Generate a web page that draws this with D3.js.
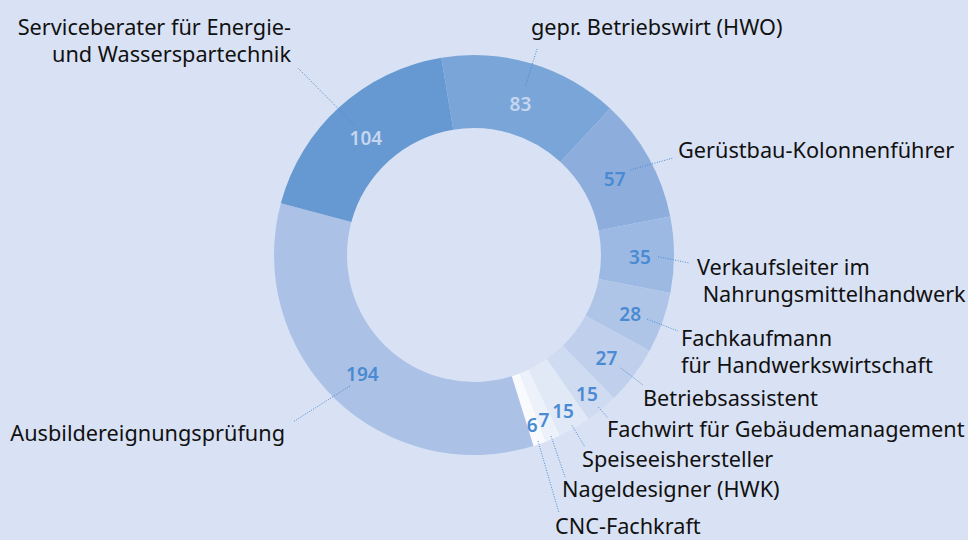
<!DOCTYPE html>
<html>
<head>
<meta charset="utf-8">
<script src="https://cdn.jsdelivr.net/npm/d3@7"></script>
<style>
  body { margin: 0; background: #d9e2f4; }
  svg text { font-family: "Noto Sans", sans-serif; }
</style>
</head>
<body>
<script>
// clockwise from the top
const categories = [
  "gepr. Betriebswirt (HWO)",
  "Gerüstbau-Kolonnenführer",
  "Verkaufsleiter im\n Nahrungsmittelhandwerk",
  "Fachkaufmann\nfür Handwerkswirtschaft",
  "Betriebsassistent",
  "Fachwirt für Gebäudemanagement",
  "Speiseeishersteller",
  "Nageldesigner (HWK)",
  "CNC-Fachkraft",
  "Ausbildereignungsprüfung",
  "Serviceberater für Energie-\nund Wasserspartechnik"
];
const values = [83, 57, 35, 28, 27, 15, 15, 7, 6, 194, 104];

const colors = ["#79a5d8", "#8daedd", "#9cb9e3", "#afc5e8", "#bfcfec", "#cfdbf0",
                "#e2e9f6", "#edf2fa", "#f8fafd", "#abc2e6", "#6699d1"];
const valueColors = ["#c6d6ef", "#4a8ad2", "#4a8ad2", "#4a8ad2", "#4a8ad2", "#4a8ad2",
                     "#4a8ad2", "#4a8ad2", "#4a8ad2", "#4a8ad2", "#c6d6ef"];

// where each category name sits, and where its dotted leader ends
const labelLayout = [
  {x: 531, y: 35,  anchor: "start", lx: 537, ly: 49},
  {x: 678, y: 158, anchor: "start", lx: 673, ly: 158},
  {x: 697, y: 275, anchor: "start", lx: 689, ly: 263},
  {x: 681, y: 346, anchor: "start", lx: 678, ly: 331},
  {x: 643, y: 406, anchor: "start", lx: 643, ly: 385},
  {x: 607, y: 437, anchor: "start", lx: 608, ly: 418},
  {x: 582, y: 467, anchor: "start", lx: 585, ly: 447},
  {x: 562, y: 497, anchor: "start", lx: 565, ly: 477},
  {x: 555, y: 534, anchor: "start", lx: 559, ly: 513},
  {x: 285, y: 441, anchor: "end",   lx: 293, ly: 422},
  {x: 291, y: 35,  anchor: "end",   lx: 298, ly: 68}
];

function init() {
  const width = 968, height = 540;
  const cx = 474, cy = 255;
  const outerR = 200, innerR = 127;

  const svg = d3.select("body").append("svg")
    .attr("width", width)
    .attr("height", height)
    .style("background-color", "#d9e2f4");

  const g = svg.append("g").attr("transform", `translate(${cx},${cy})`);

  const startA = -9.4 * Math.PI / 180;
  const pie = d3.pie().sort(null).value(d => d)
    .startAngle(startA).endAngle(startA + 2 * Math.PI);
  const arcs = pie(values);

  const arc = d3.arc().innerRadius(innerR).outerRadius(outerR);

  g.selectAll("path.slice")
    .data(arcs)
    .enter().append("path")
    .attr("class", "slice")
    .attr("d", arc)
    .attr("fill", (d, i) => colors[i]);

  const mid = d => (d.startAngle + d.endAngle) / 2;
  const labelR = d => d.value < 20 ? 177 : (d.value < 50 ? 166 : 161);
  const polar = (a, r) => [Math.sin(a) * r, -Math.cos(a) * r];

  // dotted leaders
  g.selectAll("line.leader")
    .data(arcs)
    .enter().append("line")
    .attr("class", "leader")
    .attr("x1", d => polar(mid(d), labelR(d) + 18)[0])
    .attr("y1", d => polar(mid(d), labelR(d) + 18)[1] + 2)
    .attr("x2", (d, i) => labelLayout[i].lx - cx)
    .attr("y2", (d, i) => labelLayout[i].ly - cy)
    .attr("stroke", "#4a8ad2")
    .attr("stroke-width", 1)
    .attr("stroke-dasharray", "1,1.5");

  // values inside the ring
  g.selectAll("text.val")
    .data(arcs)
    .enter().append("text")
    .attr("class", "val")
    .attr("x", d => polar(mid(d), labelR(d))[0])
    .attr("y", d => polar(mid(d), labelR(d))[1] + 3)
    .attr("dy", "0.35em")
    .attr("text-anchor", "middle")
    .attr("font-size", 19)
    .attr("font-weight", 600)
    .attr("fill", (d, i) => valueColors[i])
    .text(d => d.value);

  // category names
  const names = svg.selectAll("text.name")
    .data(categories)
    .enter().append("text")
    .attr("class", "name")
    .attr("x", (d, i) => labelLayout[i].x)
    .attr("y", (d, i) => labelLayout[i].y)
    .attr("text-anchor", (d, i) => labelLayout[i].anchor)
    .attr("font-size", 21.7)
    .attr("fill", "#111111")
    .style("white-space", "pre");

  names.each(function(d, i) {
    const t = d3.select(this);
    d.split("\n").forEach((line, k) => {
      t.append("tspan")
        .attr("x", labelLayout[i].x)
        .attr("dy", k === 0 ? 0 : 27)
        .text(line);
    });
  });
}

init();
</script>
</body>
</html>
